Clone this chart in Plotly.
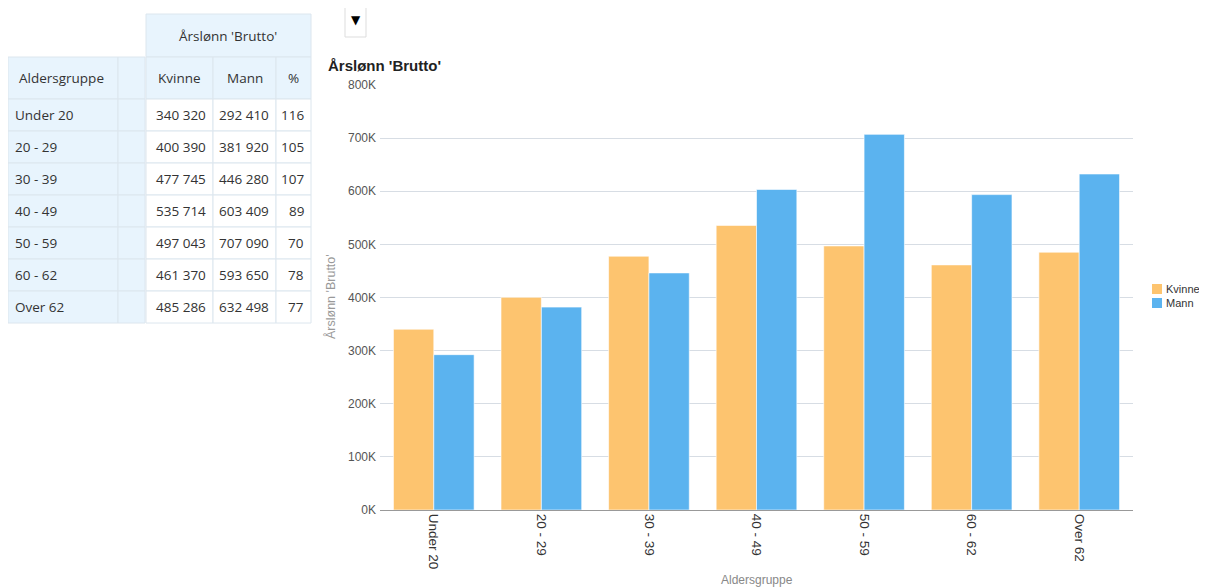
import plotly.graph_objects as go

categories = ["Under 20", "20 - 29", "30 - 39", "40 - 49", "50 - 59", "60 - 62", "Over 62"]
kvinne = [340320, 400390, 477745, 535714, 497043, 461370, 485286]
mann = [292410, 381920, 446280, 603409, 707090, 593650, 632498]
pct = [116, 105, 107, 89, 70, 78, 77]
series_names = ["Kvinne", "Mann"]
series_colors = ["#FDC46F", "#5BB3EF"]
ytick_vals = [0, 100000, 200000, 300000, 400000, 500000, 600000, 700000, 800000]
ytick_text = ["0K", "100K", "200K", "300K", "400K", "500K", "600K", "700K", "800K"]

# page body has an 8px margin; figure is placed at (8, 8)
OFF = 8
W, H = 1207 - OFF, 588 - OFF
def px(x):
    return (x - OFF) / W
def py(y):
    return 1 - (y - OFF) / H

def fmt(n):
    return f"{n:,}".replace(",", " ")

fig = go.Figure()
for name, vals, col in zip(series_names, [kvinne, mann], series_colors):
    fig.add_trace(go.Bar(x=categories, y=vals, name=name,
                         marker=dict(color=col, line=dict(color="#ffffff", width=0.6))))

shapes = []
annotations = []
HDR = "#E8F4FD"
BORDER = "#DCE6EE"
TXT = "#333333"
TFONT = "Open Sans"

def rect(x0, y0, x1, y1, fill, line=BORDER, lw=1):
    shapes.append(dict(type="rect", xref="paper", yref="paper",
                       x0=px(x0), x1=px(x1), y0=py(y1), y1=py(y0),
                       fillcolor=fill, line=dict(color=line, width=lw), layer="above"))

def text(x, y, s, anchor="center", size=13.5, color=TXT, family=TFONT, bold=False, angle=0):
    annotations.append(dict(xref="paper", yref="paper", x=px(x), y=py(y),
                            text=(f"<b>{s}</b>" if bold else s), showarrow=False,
                            xanchor=anchor, yanchor="middle", textangle=angle,
                            font=dict(size=size, color=color, family=family)))

# table header
rect(146, 14, 311, 57, HDR)
text(228, 36, "Årslønn 'Brutto'")
rect(8, 57, 118, 99, HDR)
rect(118, 57, 145, 99, HDR)
text(61, 78, "Aldersgruppe")
col_edges = [(146, 213), (213, 276), (276, 311)]
for (a, b), lab in zip(col_edges, ["Kvinne", "Mann", "%"]):
    rect(a, 57, b, 99, HDR)
    text((a + b) / 2, 78, lab)

for i, cat in enumerate(categories):
    y0 = 99 + 32 * i
    y1 = y0 + 32
    rect(8, y0, 118, y1, HDR)
    rect(118, y0, 145, y1, HDR)
    text(13, (y0 + y1) / 2, cat, anchor="left")
    vals = [fmt(kvinne[i]), fmt(mann[i]), str(pct[i])]
    for (a, b), v in zip(col_edges, vals):
        rect(a, y0, b, y1, "#ffffff")
        text(b - 5, (y0 + y1) / 2, v, anchor="right")

# dropdown box
rect(345, 5, 366, 37, "#ffffff", line="#dddddd")
text(355.5, 20, "▼", size=12, color="#000000", family="DejaVu Sans")

# chart title and axis titles
text(326, 65, "Årslønn 'Brutto'", anchor="left", size=15, color="#222222", family="Arial", bold=True)
text(330, 297, "Årslønn 'Brutto'", size=12.5, color="#999999", family="Arial", angle=-90)
text(757, 580, "Aldersgruppe", size=12, color="#888888", family="Arial")

# legend
for k, (name, col) in enumerate(zip(series_names, series_colors)):
    yc = 289 + 14 * k
    rect(1152, yc - 5, 1162, yc + 5, col, line=col, lw=0)
    text(1164, yc, name, anchor="left", size=11, color="#333333", family="Arial")

fig.update_layout(
    width=W, height=H,
    margin=dict(l=0, r=0, t=0, b=0),
    paper_bgcolor="#ffffff", plot_bgcolor="#ffffff",
    barmode="group", bargap=0.25, bargroupgap=0,
    showlegend=False,
    shapes=shapes, annotations=annotations,
    xaxis=dict(domain=[px(380), px(1133)], showgrid=False, showline=True,
               linecolor="#999999", linewidth=1, tickangle=90,
               tickfont=dict(size=13.5, family="Arial", color="#333333"),
               ticks="", automargin=False),
    yaxis=dict(domain=[py(510), py(85)], range=[0, 800000], tickvals=ytick_vals,
               ticktext=ytick_text, showgrid=True, gridcolor="#D7DDE4", gridwidth=1.3,
               zeroline=False, tickfont=dict(size=12, family="Arial", color="#555555"),
               ticklabelstandoff=3, ticks="", automargin=False),
)

fig.write_html("out.html")
